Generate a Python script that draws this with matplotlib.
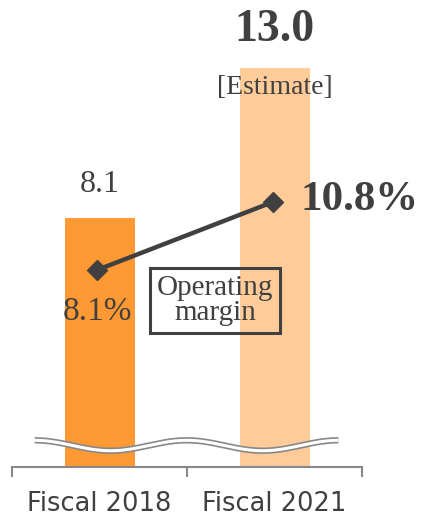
import numpy as np
import matplotlib
matplotlib.use("Agg")
import matplotlib.pyplot as plt

categories = ["Fiscal 2018", "Fiscal 2021"]
sales = [8.1, 13.0]
sales_labels = ["8.1", "13.0"]
margin = [8.1, 10.8]
margin_labels = ["8.1%", "10.8%"]
bar_colors = ["#FF9933", "#FFCC99"]

W, H = 433, 518
fig = plt.figure(figsize=(W / 100, H / 100), dpi=100)
ax = fig.add_axes([12 / W, (H - 467) / H, 350 / W, 445 / H])
ax.set_xlim(-0.5, 1.5)
ax.set_ylim(0, 14.5)
x = np.arange(len(categories))
ax.bar(x, sales, width=0.4, color=bar_colors, zorder=1)

for s in ["top", "right", "left"]:
    ax.spines[s].set_visible(False)
ax.spines["bottom"].set_color("#888888")
ax.spines["bottom"].set_linewidth(1.5)
ax.set_yticks([])
ax.set_xticks([-0.5, 0.5, 1.5], minor=False)
ax.set_xticklabels([])
ax.tick_params(axis="x", length=7, width=1.5, color="#888888", direction="out")
ax.set_xticks(x, minor=True)
ax.set_xticklabels(categories, minor=True)
ax.tick_params(axis="x", which="minor", length=0, pad=17, labelsize=18.5,
               labelcolor="#404040")

# wavy break symbol
xw = np.linspace(-0.37, 1.365, 300)
yw = 0.70 + 0.17 * np.cos((xw + 0.37) / 0.868 * 2 * np.pi)
ax.plot(xw, yw, color="#888888", lw=4.6, zorder=3, solid_capstyle="butt")
ax.plot(xw, yw, color="white", lw=2.2, zorder=4, solid_capstyle="butt")

serif = "Liberation Serif"
ax.text(0, 9.19, sales_labels[0], ha="center", va="center",
        fontsize=23, family=serif, color="#404040")
ax.text(1, 14.24, sales_labels[1], ha="center", va="center", fontsize=33,
        fontweight="bold", family=serif, color="#404040")
ax.text(1, 12.35, "[Estimate]", ha="center", va="center", fontsize=20,
        family=serif, color="#404040")

# operating margin line on a secondary scale
ax2 = ax.twinx()
ax2.set_ylim(8.1 - 197 * 0.0397, 8.1 + 248 * 0.0397)
ax2.axis("off")
ax2.plot([-0.014, 0.991], margin, color="#404040", lw=3.2, marker="D",
         markersize=10, zorder=5)
ax.text(-0.014, 5.05, margin_labels[0], ha="center", va="center",
        fontsize=24, family=serif, color="#404040", zorder=6)
ax.text(1.146, 8.70, margin_labels[1], ha="left", va="center",
        fontsize=31, fontweight="bold", family=serif, color="#404040", zorder=6)
ax.text(0.66, 5.44, "Operating\nmargin", ha="center", va="center",
        fontsize=21, family=serif, color="#404040", linespacing=0.95, zorder=6,
        bbox=dict(boxstyle="square,pad=0.24", fc="none", ec="#404040", lw=2.2))

fig.savefig("out.png", dpi=100)
